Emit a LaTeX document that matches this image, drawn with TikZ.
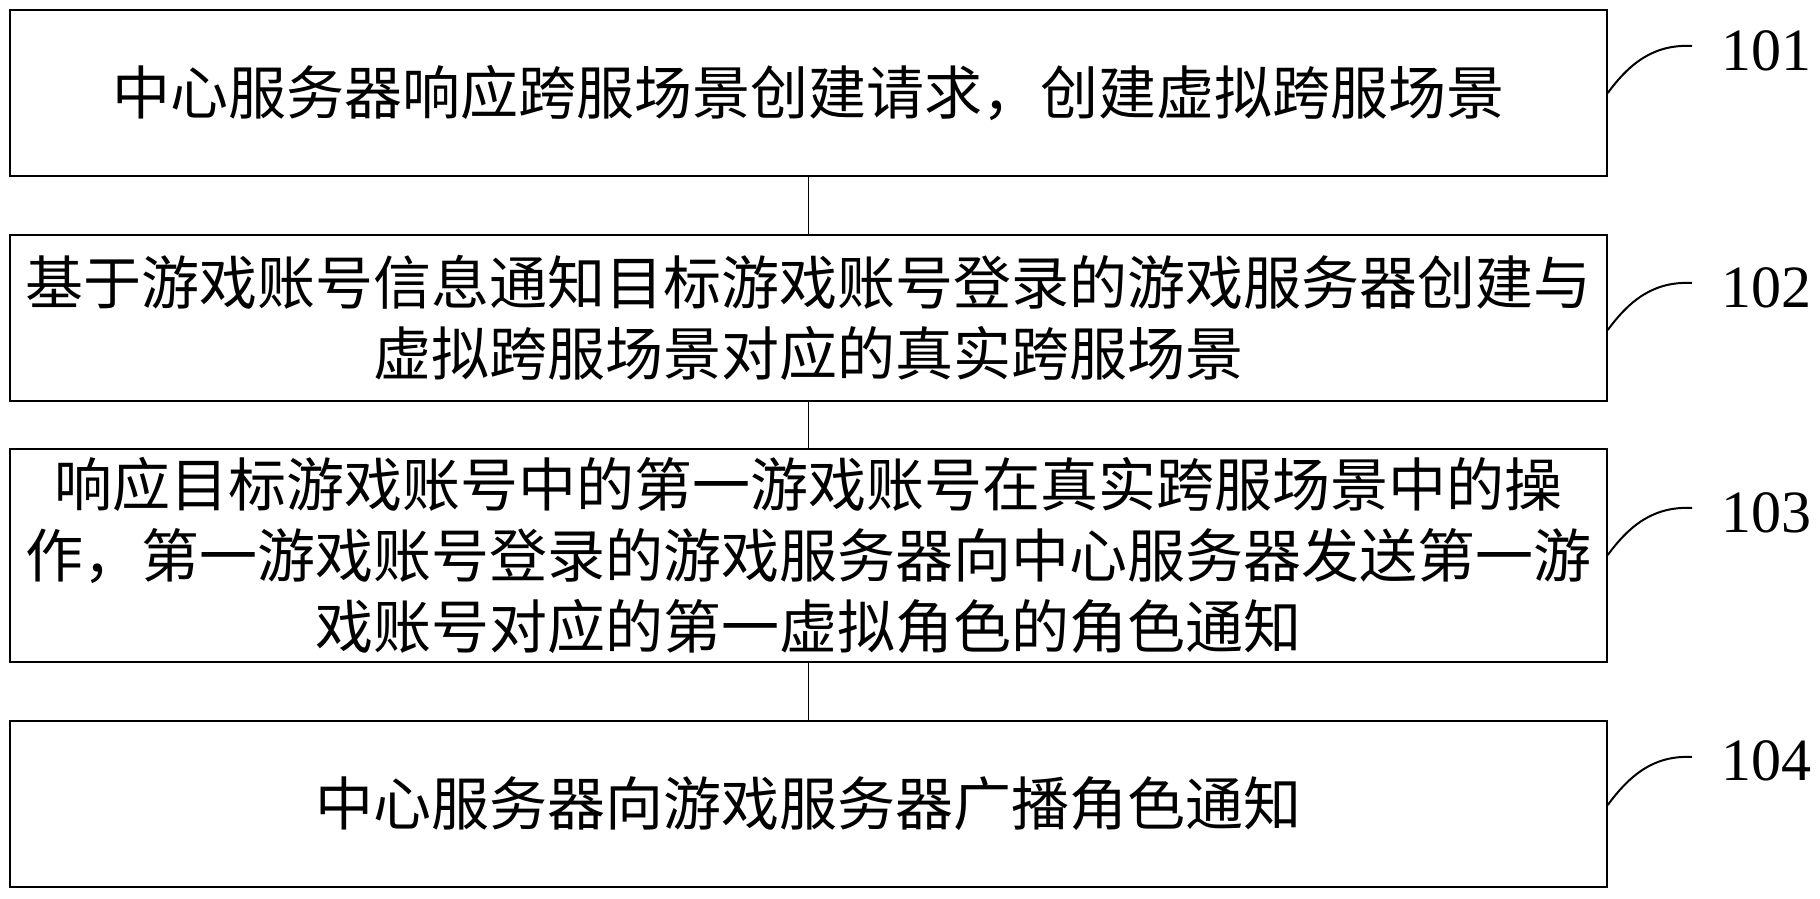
\documentclass[tikz,border=0pt]{standalone}
\usepackage{fontspec}
\setmainfont{Liberation Serif}
\newfontfamily\cjk{Noto Sans CJK SC}
\begin{document}
\begin{tikzpicture}[x=1pt,y=-1pt,
  stepbox/.style={draw, line width=1.5pt, minimum width=1597pt, inner sep=0pt,
    align=center, font=\cjk\fontsize{58}{71}\selectfont},
  link/.style={draw, line width=1.2pt},
  callout/.style={draw, line width=2pt},
  steplabel/.style={anchor=west, inner sep=0pt, font=\fontsize{60}{60}\selectfont}]
\useasboundingbox (0,0) rectangle (1820,898);
\node[stepbox, minimum height=166pt] (b1) at (808.5,93) {中心服务器响应跨服场景创建请求，创建虚拟跨服场景};
\node[stepbox, minimum height=166pt] (b2) at (808.5,318) {基于游戏账号信息通知目标游戏账号登录的游戏服务器创建与\\虚拟跨服场景对应的真实跨服场景};
\node[stepbox, minimum height=213pt] (b3) at (808.5,555.5) {响应目标游戏账号中的第一游戏账号在真实跨服场景中的操\\作，第一游戏账号登录的游戏服务器向中心服务器发送第一游\\戏账号对应的第一虚拟角色的角色通知};
\node[stepbox, minimum height=166pt] (b4) at (808.5,804) {中心服务器向游戏服务器广播角色通知};
\draw[link] (b1.south) -- (b2.north);
\draw[link] (b2.south) -- (b3.north);
\draw[link] (b3.south) -- (b4.north);
\coordinate (e1) at (1692,46);
\coordinate (e2) at (1692,283);
\coordinate (e3) at (1692,508);
\coordinate (e4) at (1692,757);
\draw[callout] (b1.east) .. controls +(22,-30) and +(-38,-2) .. (e1);
\draw[callout] ([yshift=-12pt]b2.east) .. controls +(22,-30) and +(-38,-2) .. (e2);
\draw[callout] ([yshift=0.5pt]b3.east) .. controls +(22,-30) and +(-38,-2) .. (e3);
\draw[callout] ([yshift=-1pt]b4.east) .. controls +(22,-30) and +(-38,-2) .. (e4);
\node[steplabel] (l1) at (1721,51) {101};
\node[steplabel] (l2) at (1721,288) {102};
\node[steplabel] (l3) at (1721,513) {103};
\node[steplabel] (l4) at (1721,761) {104};
\end{tikzpicture}
\end{document}
